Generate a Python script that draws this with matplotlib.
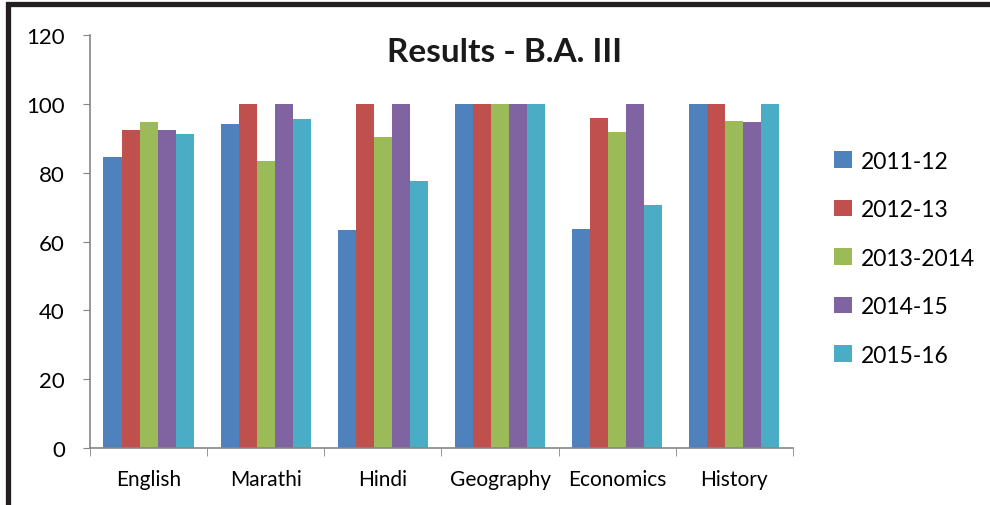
import numpy as np
import matplotlib.pyplot as plt
from matplotlib.patches import Rectangle

plt.rcParams['font.family'] = ['Lato', 'DejaVu Sans']

subjects = ['English', 'Marathi', 'Hindi', 'Geography', 'Economics', 'History']
years = ['2011-12', '2012-13', '2013-2014', '2014-15', '2015-16']
r_2011 = [84.6, 94.2, 63.4, 100, 63.7, 100]
r_2012 = [92.4, 100, 100, 100, 95.9, 100]
r_2013 = [94.8, 83.4, 90.4, 100, 91.9, 95.1]
r_2014 = [92.4, 100, 100, 100, 100, 94.8]
r_2015 = [91.3, 95.6, 77.6, 100, 70.6, 100]
colors = ['#4F81BD', '#C0504D', '#9BBB59', '#8064A2', '#4BACC6']

series = [r_2011, r_2012, r_2013, r_2014, r_2015]

fig = plt.figure(figsize=(9.9, 5.06), dpi=100)
ax = fig.add_axes([0.0909, 0.1126, 0.710, 0.816])

x = np.arange(len(subjects))
w = 0.154
for i in range(len(series)):
    ax.bar(x + (i - 2) * w, series[i], width=w, color=colors[i], label=years[i])

ax.set_xlim(-0.5, len(subjects) - 0.5)
ax.set_ylim(0, 120)
ax.set_yticks(range(0, 121, 20))
ax.tick_params(axis='y', labelsize=16, length=5, color='#868686', pad=13)
ax.set_xticks(x)
ax.set_xticklabels(subjects)
ax.tick_params(axis='x', labelsize=15, length=0, pad=15)
ax.set_xticks(np.arange(-0.5, len(subjects)), minor=True)
ax.tick_params(axis='x', which='minor', length=6, color='#868686')

for s in ['top', 'right']:
    ax.spines[s].set_visible(False)
for s in ['left', 'bottom']:
    ax.spines[s].set_color('#868686')
    ax.spines[s].set_linewidth(1.2)

fig.text(0.51, 0.897, 'Results - B.A. III', ha='center', va='center',
         fontsize=24, fontweight='bold', color='#1a1a1a')

fig.legend(loc='center left', bbox_to_anchor=(0.822, 0.488), frameon=False,
           fontsize=16.5, handlelength=0.75, handleheight=0.75, handletextpad=0.4,
           labelspacing=1.2)

fig.patches.append(Rectangle((0.008, -0.05), 1.1, 0.04 + 1.0, transform=fig.transFigure,
                             fill=False, edgecolor='#231f20', linewidth=3.8))

fig.savefig('out.png', dpi=100)
